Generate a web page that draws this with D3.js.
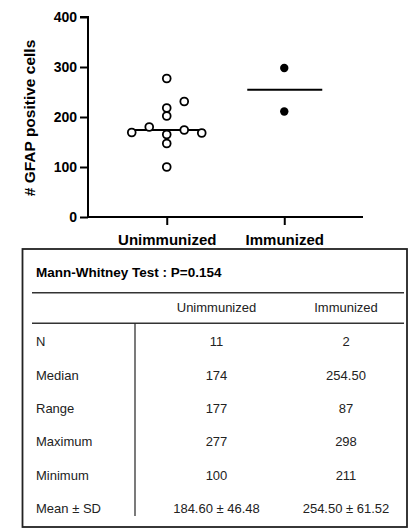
<!DOCTYPE html>
<html>
<head>
<meta charset="utf-8">
<script src="https://cdn.jsdelivr.net/npm/d3@7"></script>
<style>
  body{margin:0;background:#fff;}
  svg{display:block;font-family:"Liberation Sans",Arial,sans-serif;}
</style>
</head>
<body>
<svg id="chart" width="409" height="529"></svg>
<script>
// groups on the x axis
var groups = ['Unimmunized', 'Immunized'];
// GFAP positive cell counts per animal
var unimmunized = [277, 231, 218, 202, 180, 174, 169, 168, 165, 147, 100];
var immunized = [298, 211];
// column of each point inside the scatter (0 = centre)
var unimmunizedCols = [0, 1, 0, 0, -1, 1, -2, 2, 0, 0, 0];
var immunizedCols = [0, 0];
var yTicks = [0, 100, 200, 300, 400];

// summary table
var testTitle = 'Mann-Whitney Test : P=0.154';
var statLabels = ['N', 'Median', 'Range', 'Maximum', 'Minimum', 'Mean \u00b1 SD'];
var unimmunizedStats = ['11', '174', '177', '277', '100', '184.60 \u00b1 46.48'];
var immunizedStats = ['2', '254.50', '87', '298', '211', '254.50 \u00b1 61.52'];

var svg = d3.select('#chart');

//scales
var x = d3.scalePoint().domain(groups).range([88, 363]).padding(0.67);
var y = d3.scaleLinear().domain([0, 400]).range([217, 17]);
var col = d3.scaleLinear().domain([-1, 1]).range([-17.5, 17.5]);

//axes
var yAxis = svg.append('g')
    .attr('transform', 'translate(88,0)')
    .call(d3.axisLeft(y).tickValues(yTicks).tickSize(8).tickPadding(3));
var xAxis = svg.append('g')
    .attr('transform', 'translate(0,217)')
    .call(d3.axisBottom(x).tickSize(8).tickSizeOuter(0).tickPadding(6));

[yAxis, xAxis].forEach(function(a){
    a.select('.domain').attr('stroke', '#000').attr('stroke-width', 2);
    a.selectAll('.tick line').attr('stroke', '#000').attr('stroke-width', 2);
    a.selectAll('.tick text')
     .attr('fill', '#000')
     .style('font-family', '"Liberation Sans",Arial,sans-serif')
     .style('font-weight', 'bold');
});
yAxis.select('.domain').attr('d', 'M0,' + y(0) + 'V' + y(400) + 'H-8');
yAxis.selectAll('.tick text').style('font-size', '14px');
xAxis.select('.domain').attr('d', 'M88,0H363');
xAxis.selectAll('.tick text').style('font-size', '15px').attr('dy', '0.95em');

svg.append('text')
    .attr('transform', 'translate(35,' + ((y(0) + y(400)) / 2 + 1) + ') rotate(-90)')
    .attr('text-anchor', 'middle')
    .style('font-size', '15.5px')
    .style('font-weight', 'bold')
    .text('# GFAP positive cells');

//points
var pts = [].concat(
    unimmunized.map(function(v, i){ return {g: groups[0], v: v, c: unimmunizedCols[i], open: true}; }),
    immunized.map(function(v, i){ return {g: groups[1], v: v, c: immunizedCols[i], open: false}; })
);

//median lines
[[groups[0], unimmunized], [groups[1], immunized]].forEach(function(d){
    var m = d3.median(d[1]);
    svg.append('line')
        .attr('x1', x(d[0]) - 37).attr('x2', x(d[0]) + 38)
        .attr('y1', y(m)).attr('y2', y(m))
        .attr('stroke', '#000').attr('stroke-width', 2);
});

svg.append('g').selectAll('circle')
    .data(pts)
    .enter()
    .append('circle')
    .attr('cx', function(d){ return x(d.g) + col(d.c); })
    .attr('cy', function(d){ return y(d.v); })
    .attr('r', function(d){ return d.open ? 3.9 : 4.2; })
    .attr('fill', function(d){ return d.open ? '#fff' : '#000'; })
    .attr('stroke', '#000')
    .attr('stroke-width', function(d){ return d.open ? 1.8 : 0; });

//table
var table = svg.append('g');
table.append('rect')
    .attr('x', 22.5).attr('y', 249).attr('width', 384.5).attr('height', 278)
    .attr('fill', 'none').attr('stroke', '#222').attr('stroke-width', 1.8);
table.append('text')
    .attr('x', 36).attr('y', 276.5)
    .style('font-size', '13.5px').style('font-weight', 'bold')
    .text(testTitle);
[292.7, 323.3].forEach(function(yy){
    table.append('line')
        .attr('x1', 32).attr('x2', 404).attr('y1', yy).attr('y2', yy)
        .attr('stroke', '#333').attr('stroke-width', 1.6);
});
table.append('line')
    .attr('x1', 135).attr('x2', 135).attr('y1', 323.3).attr('y2', 516)
    .attr('stroke', '#222').attr('stroke-width', 1.2);

var colX = d3.scaleOrdinal().domain(['label'].concat(groups)).range([36, 216.5, 346]);
var rowY = d3.scaleLinear().domain([0, statLabels.length - 1]).range([341.8, 508.3]);

table.selectAll('text.head')
    .data(groups)
    .enter()
    .append('text')
    .attr('class', 'head')
    .attr('x', function(d){ return colX(d); })
    .attr('y', 307.5)
    .attr('dy', '0.35em')
    .attr('text-anchor', 'middle')
    .style('font-size', '13px')
    .attr('fill', '#222')
    .text(function(d){ return d; });

var rows = table.selectAll('g.row')
    .data(statLabels.map(function(l, i){ return [l, unimmunizedStats[i], immunizedStats[i]]; }))
    .enter()
    .append('g')
    .attr('class', 'row')
    .attr('transform', function(d, i){ return 'translate(0,' + rowY(i) + ')'; });

rows.selectAll('text')
    .data(function(d){ return d; })
    .enter()
    .append('text')
    .attr('x', function(d, i){ return colX(i === 0 ? 'label' : groups[i - 1]); })
    .attr('dy', '0.35em')
    .attr('text-anchor', function(d, i){ return i === 0 ? 'start' : 'middle'; })
    .style('font-size', '13px')
    .attr('fill', '#222')
    .text(function(d){ return d; });
</script>
</body>
</html>
